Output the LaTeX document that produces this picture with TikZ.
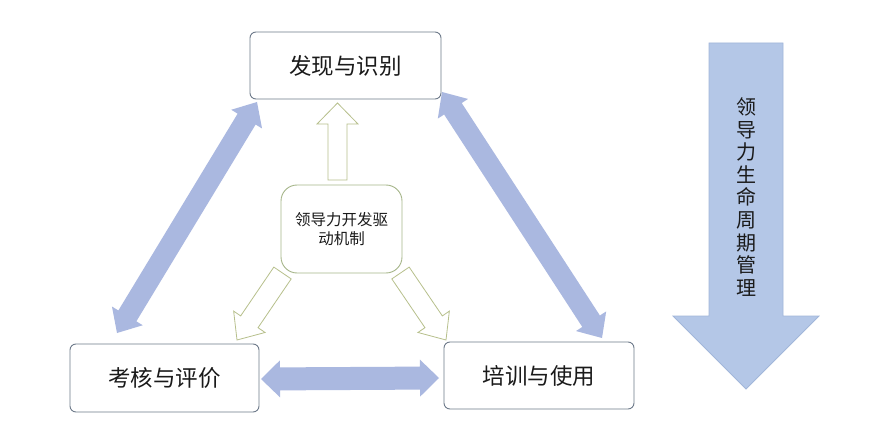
\documentclass[tikz,border=0pt]{standalone}
\usepackage{fontspec}
\setmainfont{Noto Sans CJK SC}
\usetikzlibrary{calc}
\definecolor{dblue}{HTML}{AAB8E0}
\definecolor{bigfill}{HTML}{B4C7E7}
\definecolor{bigline}{HTML}{A2B6DA}
\definecolor{olive}{HTML}{B7C08C}
\definecolor{cboxline}{HTML}{A6B68A}
\definecolor{boxline}{HTML}{6E7A8A}
\definecolor{txt}{HTML}{1A1A1A}
\newcommand{\myDblArrow}[6]{%
 \path[#1] (#2) -- ($(#2)!#6!(#3)!#5!90:(#3)$) -- ($(#2)!#6!(#3)!#4!90:(#3)$)
 -- ($(#3)!#6!(#2)!#4!-90:(#2)$) -- ($(#3)!#6!(#2)!#5!-90:(#2)$) -- (#3)
 -- ($(#3)!#6!(#2)!#5!90:(#2)$) -- ($(#3)!#6!(#2)!#4!90:(#2)$)
 -- ($(#2)!#6!(#3)!#4!-90:(#3)$) -- ($(#2)!#6!(#3)!#5!-90:(#3)$) -- cycle;}
\newcommand{\mySglArrow}[6]{%
 \path[#1] ($(#2)!#4!90:(#3)$) -- ($(#3)!#6!(#2)!#4!-90:(#2)$) -- ($(#3)!#6!(#2)!#5!-90:(#2)$)
 -- (#3) -- ($(#3)!#6!(#2)!#5!90:(#2)$) -- ($(#3)!#6!(#2)!#4!90:(#2)$)
 -- ($(#2)!#4!-90:(#3)$) -- cycle;}
\tikzset{
 stagebox/.style={draw=boxline, line width=0.9pt, rounded corners=6pt, fill=white,
   text=txt, font=\fontsize{22.5}{26}\selectfont, inner sep=0pt},
 corebox/.style={draw=cboxline, line width=0.9pt, rounded corners=16pt, fill=white,
   text=txt, align=center, font=\fontsize{15.5}{19}\selectfont, inner sep=0pt,
   minimum width=121pt, minimum height=88pt},
 bluearrow/.style={fill=dblue},
 hollowarrow/.style={draw=olive, fill=white, line width=0.8pt, line join=miter},
 lifearrow/.style={fill=bigfill, draw=bigline, line width=0.8pt}
}
\begin{document}
\begin{tikzpicture}[x=1pt, y=-1pt]
\useasboundingbox[fill=white] (0,0) rectangle (878,422);

% stage boxes
\node[stagebox, minimum width=191pt, minimum height=67pt] (find) at (345.5,65.5) {发现与识别};
\node[stagebox, minimum width=189pt, minimum height=68pt] (eval) at (164.5,378) {考核与评价};
\node[stagebox, minimum width=190pt, minimum height=67pt] (train) at (539,375.5) {培训与使用};

% blue double arrows
\coordinate (l1) at (117,333);
\coordinate (l2) at (257,102);
\coordinate (r1) at (442,92);
\coordinate (r2) at (602,338);
\coordinate (h1) at (261,379);
\coordinate (h2) at (439,378);
\myDblArrow{bluearrow}{l1}{l2}{10.5pt}{18pt}{20pt}
\myDblArrow{bluearrow}{r1}{r2}{10.5pt}{18pt}{20pt}
\myDblArrow{bluearrow}{h1}{h2}{11.5pt}{18.5pt}{19pt}

% hollow arrows from the core
\coordinate (u1) at (337.5,180);
\coordinate (u2) at (337.5,103);
\coordinate (a1) at (282.5,273);
\coordinate (a2) at (237,340);
\coordinate (b1) at (400.5,273);
\coordinate (b2) at (446,340);
\mySglArrow{hollowarrow}{u1}{u2}{9.5pt}{20.5pt}{21pt}
\mySglArrow{hollowarrow}{a1}{a2}{10.5pt}{19pt}{22pt}
\mySglArrow{hollowarrow}{b1}{b2}{10.5pt}{19pt}{22pt}

% core box
\node[corebox] (core) at (341.5,229) {领导力开发驱\\动机制};

% life cycle arrow
\coordinate (v1) at (746,43);
\coordinate (v2) at (746,389);
\mySglArrow{lifearrow}{v1}{v2}{37pt}{73pt}{73pt}
\node[align=center, text=txt, font=\fontsize{20}{22.6}\selectfont, inner sep=0pt] (life) at (746,197)
 {领\\导\\力\\生\\命\\周\\期\\管\\理};
\end{tikzpicture}
\end{document}
